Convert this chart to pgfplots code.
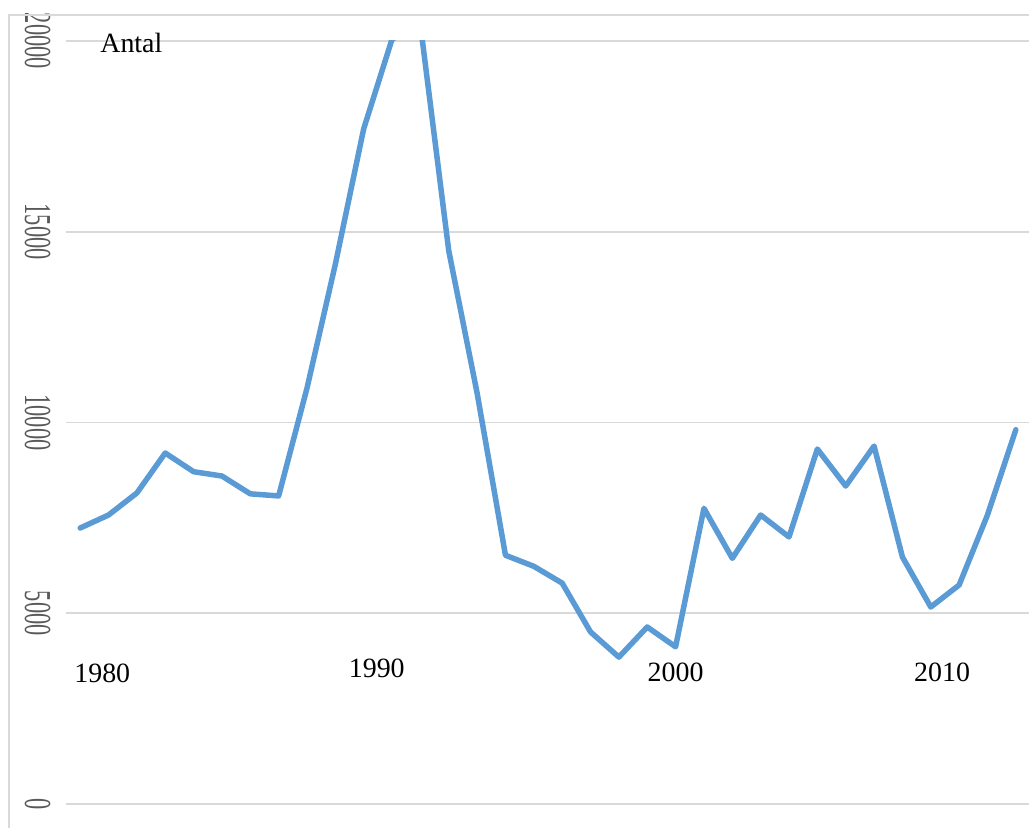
\documentclass[border=0pt]{standalone}
\usepackage{fontspec}
\setmainfont{Liberation Serif}
\usepackage{pgfplots}
\pgfplotsset{compat=1.18}
\definecolor{linjeblaa}{HTML}{5B9BD5}
\definecolor{rutgraa}{HTML}{D9D9D9}
\definecolor{textgraa}{HTML}{595959}
\begin{document}
\begin{tikzpicture}
	\begin{axis}[
	scale only axis,
	width=964bp,
	height=763bp,
	xmin=1978.5, xmax=2012.5,
	ymin=0, ymax=20000,
	xtick=\empty,
	ytick={0,5000,10000,15000,20000},
	scaled y ticks=false,
	ymajorgrids,
	major grid style={rutgraa, line width=1.6bp},
	axis line style={draw=none},
	major tick length=0pt,
	clip mode=individual,
	/pgf/number format/assume math mode=true,
	/pgf/number format/set thousands separator={},
	yticklabel style={font=\fontsize{22.5}{24}\selectfont, text=textgraa,
		anchor=center, inner sep=0pt, xshift=-28.5bp, rotate=-90, yscale=1.7},
	]
	\addplot[linjeblaa, line width=5.5bp, line join=round, line cap=round] coordinates {
		(1979,7234) (1980,7575) (1981,8152) (1982,9200) (1983,8710)
		(1984,8597) (1985,8130) (1986,8075) (1987,10900) (1988,14150)
		(1989,17700) (1990,20050) (1991,20420) (1992,14500) (1993,10770)
		(1994,6520) (1995,6230) (1996,5790) (1997,4510) (1998,3850)
		(1999,4640) (2000,4120) (2001,7750) (2002,6440) (2003,7575)
		(2004,7000) (2005,9305) (2006,8335) (2007,9383) (2008,6474)
		(2009,5163) (2010,5740) (2011,7575) (2012,9810)
	};
	\node[anchor=base west, inner sep=0pt, font=\fontsize{28}{30}\selectfont]
		at (axis cs:1979.705,19710) {Antal};
	\node[inner sep=0pt, font=\fontsize{28}{30}\selectfont] at (axis cs:1979.78,3434) {1980};
	\node[inner sep=0pt, font=\fontsize{28}{30}\selectfont] at (axis cs:1989.46,3551) {1990};
	\node[inner sep=0pt, font=\fontsize{28}{30}\selectfont] at (axis cs:2000.0,3460) {2000};
	\node[inner sep=0pt, font=\fontsize{28}{30}\selectfont] at (axis cs:2009.4,3460) {2010};
	\end{axis}
	% ram runt diagramytan (syns bara uppe och till vänster)
	\draw[rutgraa, line width=1.5bp] (-57bp,-40bp) -- (-57bp,789bp) -- (990bp,789bp);
	\pgfresetboundingbox
	\path (-66bp,-24bp) rectangle (963bp,804bp);
\end{tikzpicture}
\end{document}
